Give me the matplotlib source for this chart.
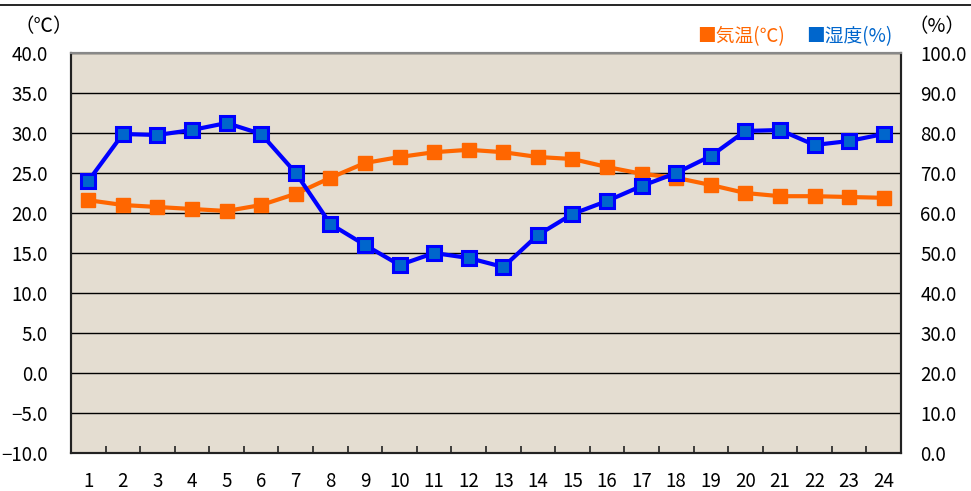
import matplotlib
matplotlib.use("Agg")
import matplotlib.pyplot as plt
from matplotlib.lines import Line2D

plt.rcParams['font.family'] = ['Noto Sans CJK JP', 'DejaVu Sans']

hours = list(range(1, 25))
temperature = [21.6, 21.0, 20.75, 20.5, 20.25, 21.0, 22.4, 24.4, 26.25, 27.0, 27.6, 27.9,
               27.6, 27.0, 26.75, 25.75, 24.9, 24.4, 23.5, 22.5, 22.1, 22.1, 22.0, 21.9]
humidity = [68.0, 79.75, 79.5, 80.75, 82.5, 79.75, 70.0, 57.25, 52.0, 47.0, 50.0, 48.75,
            46.5, 54.5, 59.75, 63.0, 66.75, 70.0, 74.25, 80.5, 80.75, 77.0, 78.0, 79.75]
left_ticks = [-10, -5, 0, 5, 10, 15, 20, 25, 30, 35, 40]
right_ticks = [0, 10, 20, 30, 40, 50, 60, 70, 80, 90, 100]

W, H = 971, 491
fig = plt.figure(figsize=(W / 100, H / 100), dpi=100)
ax = fig.add_axes([71 / W, 1 - 453 / H, 830 / W, 400 / H])
ax2 = ax.twinx()

ax.set_facecolor('#e4ddd1')
ax.set_xlim(0.5, 24.5)
ax.set_ylim(-10, 40)
ax2.set_ylim(0, 100)
ax.set_yticks(left_ticks)
ax.set_yticklabels([f"{v:.1f}".replace('-', '\u2212') for v in left_ticks])
ax2.set_yticks(right_ticks)
ax2.set_yticklabels([f"{v:.1f}" for v in right_ticks])
ax.yaxis.grid(True, color='black', linewidth=1.0)
ax.set_axisbelow(True)

ax.set_xticks(hours)
ax.set_xticklabels([str(h) for h in hours])
ax.set_xticks([h + 0.5 for h in hours[:-1]], minor=True)
ax.tick_params(axis='x', which='major', length=0, pad=13, labelsize=13.5)
ax.tick_params(axis='x', which='minor', length=5, direction='in', width=1.2, color='#222222')
ax.tick_params(axis='y', length=0, pad=17, labelsize=13.5)
ax2.tick_params(axis='y', length=0, pad=14, labelsize=13.5)

for a in (ax, ax2):
    for s in ['left', 'bottom', 'right']:
        a.spines[s].set_color('#222222')
        a.spines[s].set_linewidth(1.5)
    a.spines['top'].set_color('#888888')
    a.spines['top'].set_linewidth(1.5)

ax.plot(hours, temperature, color='#ff6600', linewidth=3, marker='s', markersize=10,
        markerfacecolor='#ff6600', markeredgecolor='#ff6600', zorder=3)
ax2.plot(hours, humidity, color='#0000ff', linewidth=3, marker='s', markersize=10,
         markerfacecolor='#0066cc', markeredgecolor='#0000ff', markeredgewidth=2.2, zorder=3)

fig.text(44 / W, 1 - 27 / H, '（℃）', ha='center', va='center', fontsize=14)
fig.text(937 / W, 1 - 27 / H, '（%）', ha='center', va='center', fontsize=14)
fig.text(697 / W, 1 - 37 / H, '■気温(℃)', ha='left', va='center', fontsize=13.5, color='#ff6600')
fig.text(806 / W, 1 - 37 / H, '■湿度(%)', ha='left', va='center', fontsize=13.5, color='#0066cc')

fig.add_artist(Line2D([0, 1], [1 - 5 / H, 1 - 5 / H], color='black', linewidth=1.2,
                      transform=fig.transFigure))

fig.savefig('out.png', dpi=100)
